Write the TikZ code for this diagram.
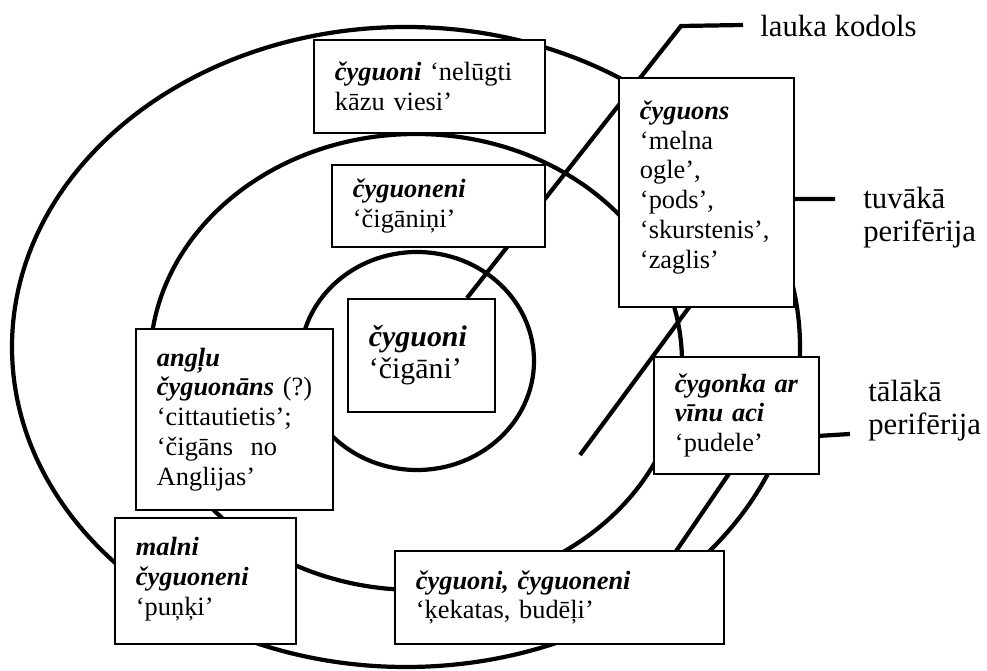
\documentclass[tikz,border=0pt]{standalone}
\usepackage{fontspec}
\setmainfont{Liberation Serif}
\usepackage{tikz}
\usetikzlibrary{positioning}

\tikzstyle{ring} = [line width=2.4pt]
\tikzstyle{lead} = [line width=2.4pt]
\tikzstyle{wordbox} = [rectangle, draw=black, fill=white, line width=1.1pt, anchor=north west, align=left, inner xsep=0.42cm, inner ysep=0pt, font=\fontsize{15}{17}\selectfont]
\tikzstyle{zone} = [anchor=base west, align=left, inner sep=0pt, font=\fontsize{17.5}{18.8}\selectfont]

\newcommand{\lex}[1]{\textbf{\textit{#1}}}

\begin{document}
\begin{tikzpicture}
\useasboundingbox (0,0) rectangle (19.74,13.42);

% Rings
\draw [ring] (8.12,6.48) ellipse [x radius=7.88, y radius=6.40];
\draw [ring] (8.32,6.18) ellipse [x radius=5.32, y radius=4.56];
\draw [ring] (8.34,6.20) ellipse [x radius=2.34, y radius=2.18];

% Leader lines
\coordinate (kodTip) at (14.86,12.92);
\coordinate (kodBend) at (13.62,12.90);
\coordinate (kodEnd) at (9.34,7.46);
\coordinate (tuvTip) at (16.70,9.44);
\coordinate (tuvBend) at (15.38,9.44);
\coordinate (tuvEnd) at (11.60,4.32);
\coordinate (talTip) at (17.00,4.74);
\coordinate (talBend) at (15.04,4.62);
\coordinate (talEnd) at (13.40,2.22);

\draw [lead] (kodTip) -- (kodBend) -- (kodEnd);
\draw [lead] (tuvTip) -- (tuvBend) -- (tuvEnd);
\draw [lead] (talTip) -- (talBend) -- (talEnd);

% Labels
\node (kodols) [zone] at (15.20,12.68) {lauka kodols};
\node (tuvaka) [zone] at (17.26,8.58) {tuvākā\\perifērija};
\node (talaka) [zone] at (17.36,4.72) {tālākā\\perifērija};

% Core
\node (core) [wordbox, minimum width=2.94cm, minimum height=2.26cm, text width=2.10cm, font=\fontsize{17}{18.2}\selectfont] at (6.94,7.46) {\lex{čyguoni}\\‘čigāni’};

% Near periphery
\node (nelugti) [wordbox, minimum width=4.62cm, minimum height=1.86cm, text width=3.78cm] at (6.26,12.64) {\lex{čyguoni}~‘nelūgti\\kāzu viesi’};
\node (ciganini) [wordbox, minimum width=4.26cm, minimum height=1.64cm, text width=3.42cm] at (6.62,10.14) {\lex{čyguoneni}\\‘čigāniņi’};
\node (cyguons) [wordbox, minimum width=3.50cm, minimum height=4.58cm, text width=2.66cm] at (12.36,11.88) {\lex{čyguons}\\‘melna\\ogle’,\\‘pods’,\\‘skurstenis’,\\‘zaglis’\\[-0.28cm]\mbox{}};
\node (anglu) [wordbox, minimum width=3.94cm, minimum height=3.62cm, text width=3.10cm] at (2.70,6.86) {\lex{angļu}\\\lex{čyguonāns}~(?)\\‘cittautietis’;\\‘čigāns~~no\\Anglijas’};

% Far periphery
\node (cygonka) [wordbox, minimum width=3.30cm, minimum height=2.34cm, text width=2.46cm] at (13.06,6.30) {\lex{čygonka~ar}\\\lex{vīnu~aci}\\‘pudele’};
\node (malni) [wordbox, minimum width=3.62cm, minimum height=2.52cm, text width=2.78cm] at (2.28,3.08) {\lex{malni}\\\lex{čyguoneni}\\‘puņķi’\\[-0.4cm]\mbox{}};
\node (kekatas) [wordbox, minimum width=6.58cm, minimum height=1.86cm, text width=5.74cm] at (7.88,2.42) {\lex{čyguoni,~čyguoneni}\\‘ķekatas,~budēļi’};

\end{tikzpicture}
\end{document}
